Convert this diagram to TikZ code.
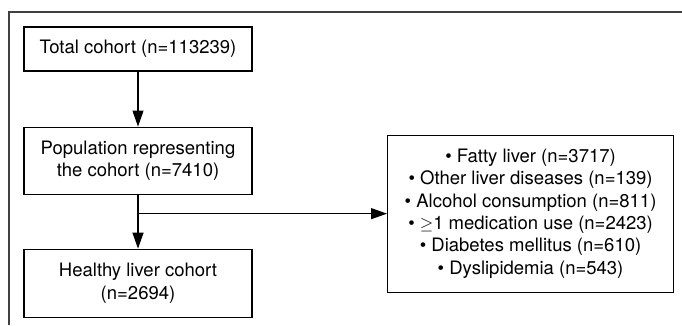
\documentclass[tikz,border=0pt]{standalone}
\usepackage{fontspec}
\setmainfont{TeX Gyre Heros}
\usetikzlibrary{arrows.meta,positioning}

\begin{document}
\begin{tikzpicture}[x=1pt,y=1pt,
    box/.style={draw, line width=1.1pt, align=center, minimum width=228pt, inner sep=0pt,
      font=\fontsize{18.5}{22.3}\selectfont},
    flow/.style={line width=1.1pt, -{Triangle[length=16pt,width=11pt]}}]
    \useasboundingbox (0,0) rectangle (682,-325);
    % Outer frame (cut off at right and bottom)
    \draw[black!75, line width=1.6pt] (9,-325) -- (9,-12) -- (682,-12);

    % Main flow
    \node[box, minimum height=44pt] (total) at (138,-49) {Total cohort (n=113239)};
    \node[box, minimum height=67pt, below=55pt of total] (pop) {Population representing\\the cohort (n=7410)};
    \node[box, minimum height=68pt, below=54pt of pop] (healthy) {Healthy liver cohort\\(n=2694)};

    % Exclusions
    \coordinate[below=19pt of pop.south] (branch);
    \node[box, minimum width=286pt, minimum height=157pt, right=249pt of branch] (excl)
      {\textbullet{} Fatty liver (n=3717)\\
       \textbullet{} Other liver diseases (n=139)\\
       \textbullet{} Alcohol consumption (n=811)\\
       \textbullet{} $\geq$1 medication use (n=2423)\\
       \textbullet{} Diabetes mellitus (n=610)\\
       \textbullet{} Dyslipidemia (n=543)};

    \draw[flow] (total) -- (pop);
    \draw[flow] (pop) -- (healthy);
    \draw[flow] (branch) -- (excl);
\end{tikzpicture}
\end{document}
